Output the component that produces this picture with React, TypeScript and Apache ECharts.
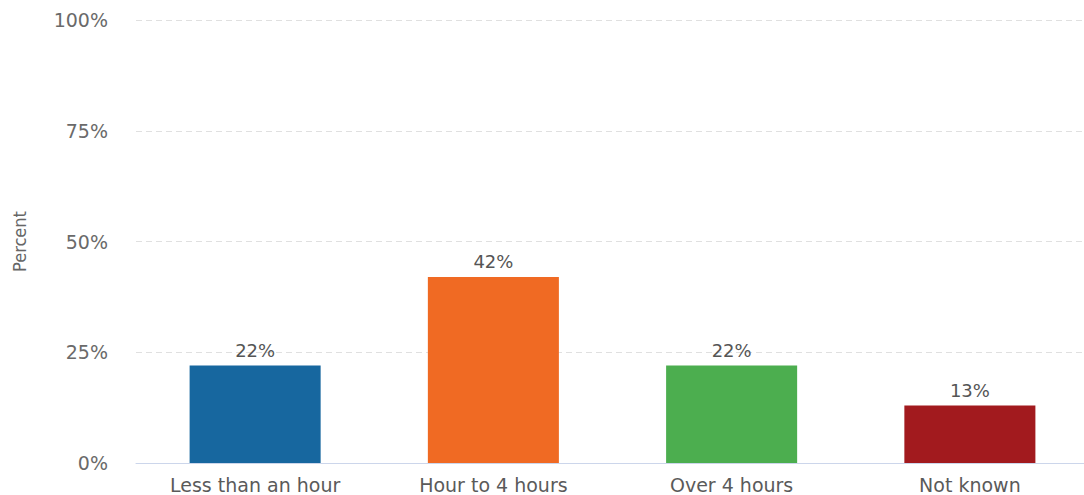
import React, { useEffect, useRef } from "react";
import * as echarts from "echarts";

const categories = ["Less than an hour", "Hour to 4 hours", "Over 4 hours", "Not known"];
const values = [22, 42, 22, 13];
const barColors = ["#17679f", "#f06a23", "#4cae4f", "#a21a1e"];
const yTicks = [0, 25, 50, 75, 100];

export default function App() {
  const ref = useRef<HTMLDivElement>(null);
  useEffect(() => {
    const chart = echarts.init(ref.current!, null, { renderer: "svg" });
    chart.setOption({
      animation: false,
      backgroundColor: "#ffffff",
      grid: { left: 136, width: 953, top: 20, bottom: 32, outerBoundsMode: "none", containLabel: false },
      xAxis: {
        type: "category",
        data: categories,
        axisTick: { show: false },
        axisLine: { lineStyle: { color: "#ccd6eb", width: 1 } },
        axisLabel: { color: "#5a5a5a", fontSize: 19, fontFamily: "DejaVu Sans", margin: 12 },
      },
      yAxis: {
        type: "value",
        min: yTicks[0],
        max: yTicks[yTicks.length - 1],
        interval: 25,
        name: "Percent",
        nameLocation: "middle",
        nameGap: 108,
        nameRotate: 90,
        nameTextStyle: { color: "#666", fontSize: 18, fontFamily: "DejaVu Sans Condensed, DejaVu Sans" },
        axisLabel: {
          color: "#6a6a6a",
          fontSize: 19,
          fontFamily: "DejaVu Sans",
          margin: 28,
          formatter: (v: number) => v + "%",
        },
        splitLine: { lineStyle: { color: "#e0e0e0", type: [6, 4], width: 1 } },
      },
      series: [
        {
          type: "bar",
          barWidth: "55%",
          data: values.map((v, i) => ({ value: v, itemStyle: { color: barColors[i] } })),
          label: {
            show: true,
            position: "top",
            distance: 6,
            color: "#555",
            fontSize: 18,
            fontFamily: "DejaVu Sans",
            formatter: (p: any) => p.value + "%",
          },
        },
      ],
    });
    return () => chart.dispose();
  }, []);
  return <div ref={ref} style={{ width: 1084, height: 495, position: "absolute", left: 0, top: 0 }} />;
}
